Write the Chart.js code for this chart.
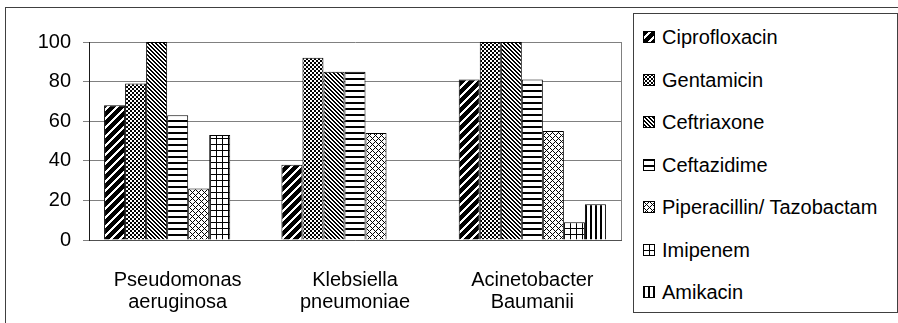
<!DOCTYPE html>
<html>
<head>
<meta charset="utf-8">
<script src="https://cdn.jsdelivr.net/npm/chart.js@4/dist/chart.umd.min.js"></script>
<style>
  body { margin: 0; background: #fff; font-family: "Liberation Sans", Arial, sans-serif; }
  #wrap { position: relative; width: 898px; height: 323px; overflow: hidden; }
  #frame { position: absolute; left: 5px; top: 7px; width: 900px; height: 330px;
           border-left: 1px solid #404040; border-top: 1px solid #404040; }
  #chart { position: absolute; left: 0; top: 0; }
  #legend { position: absolute; left: 633px; top: 13px; width: 263px; height: 298px;
            border: 1px solid #404040; background: #fff; }
  .item { position: absolute; left: 9px; height: 22px; line-height: 22px; font-size: 20px; white-space: nowrap; color: #000; }
  .item canvas { position: absolute; left: 0; top: 5px; }
  .item span { position: absolute; left: 19px; top: 0; }
</style>
</head>
<body>
<div id="wrap">
  <div id="frame"></div>
  <canvas id="chart" width="898" height="323"></canvas>
  <div id="legend"></div>
</div>
<script>
const categories = [["Pseudomonas", "aeruginosa"], ["Klebsiella", "pneumoniae"], ["Acinetobacter", "Baumanii"]];
const drugs = ["Ciprofloxacin", "Gentamicin", "Ceftriaxone", "Ceftazidime", "Piperacillin/ Tazobactam", "Imipenem", "Amikacin"];

const ciprofloxacin = [68, 38, 81];
const gentamicin = [79, 92, 100];
const ceftriaxone = [100, 85, 100];
const ceftazidime = [63, 85, 81];
const piperacillin = [26, 54, 55];
const imipenem = [53, null, 9];
const amikacin = [null, null, 18];

const yTicks = [0, 20, 40, 60, 80, 100];

const seriesValues = [ciprofloxacin, gentamicin, ceftriaxone, ceftazidime, piperacillin, imipenem, amikacin];

// pixel rules for each hatch tile: returns true where the pixel is black
const hatchRules = [
    { size: 9, black: (x, y) => (x + y) % 9 < 6 },                       // wide upward diagonal
    { size: 4, black: (x, y) => (Math.floor(x / 2) + Math.floor(y / 2)) % 2 === 0 }, // checker
    { size: 4, black: (x, y) => ((x - y) % 4 + 4) % 4 < 2 },             // downward diagonal
    { size: 6, black: (x, y) => y < 2 },                                 // horizontal lines
    { size: 6, black: (x, y) => (x + y) % 6 === 0 || ((x - y) % 6 + 6) % 6 === 0 }, // light diamonds
    { size: 6, black: (x, y) => x === 0 || y === 0 },                    // grid
    { size: 5, black: (x, y) => x < 2 }                                  // vertical lines
];

function makeTile(rule) {
    const c = document.createElement("canvas");
    c.width = rule.size;
    c.height = rule.size;
    const g = c.getContext("2d");
    g.fillStyle = "#fff";
    g.fillRect(0, 0, rule.size, rule.size);
    g.fillStyle = "#000";
    for (let y = 0; y < rule.size; y++) {
        for (let x = 0; x < rule.size; x++) {
            if (rule.black(x, y)) g.fillRect(x, y, 1, 1);
        }
    }
    return c;
}

const canvas = document.getElementById("chart");
const ctx = canvas.getContext("2d");
const tiles = hatchRules.map(makeTile);
const patterns = tiles.map(t => ctx.createPattern(t, "repeat"));

const plotBorder = {
    id: "plotBorder",
    beforeDatasetsDraw(chart) {
        const a = chart.chartArea;
        const c = chart.ctx;
        c.save();
        c.strokeStyle = "#808080";
        c.lineWidth = 1;
        c.beginPath();
        c.moveTo(Math.round(a.right) + 0.5, a.top);
        c.lineTo(Math.round(a.right) + 0.5, a.bottom);
        c.stroke();
        c.restore();
    }
};

const font = { family: "'Liberation Sans', Arial, sans-serif", size: 20 };

new Chart(ctx, {
    type: "bar",
    data: {
        labels: categories,
        datasets: drugs.map((name, i) => ({
            label: name,
            data: seriesValues[i],
            backgroundColor: patterns[i],
            borderColor: "#000",
            borderWidth: 1,
            categoryPercentage: 0.83,
            barPercentage: 1.0
        }))
    },
    options: {
        responsive: false,
        animation: false,
        layout: { padding: { left: 0, right: 277, top: 42, bottom: 0 } },
        plugins: {
            legend: { display: false },
            tooltip: { enabled: false }
        },
        scales: {
            x: {
                grid: { display: false, drawTicks: false },
                border: { display: true, color: "#505050" },
                ticks: { color: "#000", font: { ...font, lineHeight: 1.1 }, padding: 29, maxRotation: 0 },
                afterFit: s => { s.height = 83; }
            },
            y: {
                min: 0,
                max: 100,
                afterBuildTicks: s => { s.ticks = yTicks.map(v => ({ value: v })); },
                grid: { color: "#808080", drawTicks: true, tickLength: 6, tickColor: "#808080" },
                border: { display: true, color: "#1a1a1a" },
                ticks: { color: "#000", font: font, padding: 12 },
                afterFit: s => { s.width = 89; }
            }
        }
    },
    plugins: [plotBorder]
});

// legend
const legend = document.getElementById("legend");
drugs.forEach((name, i) => {
    const item = document.createElement("div");
    item.className = "item";
    item.style.top = (37 + i * 42.5 - 25) + "px";
    const sw = document.createElement("canvas");
    sw.width = 12;
    sw.height = 12;
    const g = sw.getContext("2d");
    g.fillStyle = g.createPattern(tiles[i], "repeat");
    g.fillRect(0, 0, 12, 12);
    g.strokeStyle = "#000";
    g.strokeRect(0.5, 0.5, 11, 11);
    const label = document.createElement("span");
    label.textContent = name;
    item.appendChild(sw);
    item.appendChild(label);
    legend.appendChild(item);
});
</script>
</body>
</html>
